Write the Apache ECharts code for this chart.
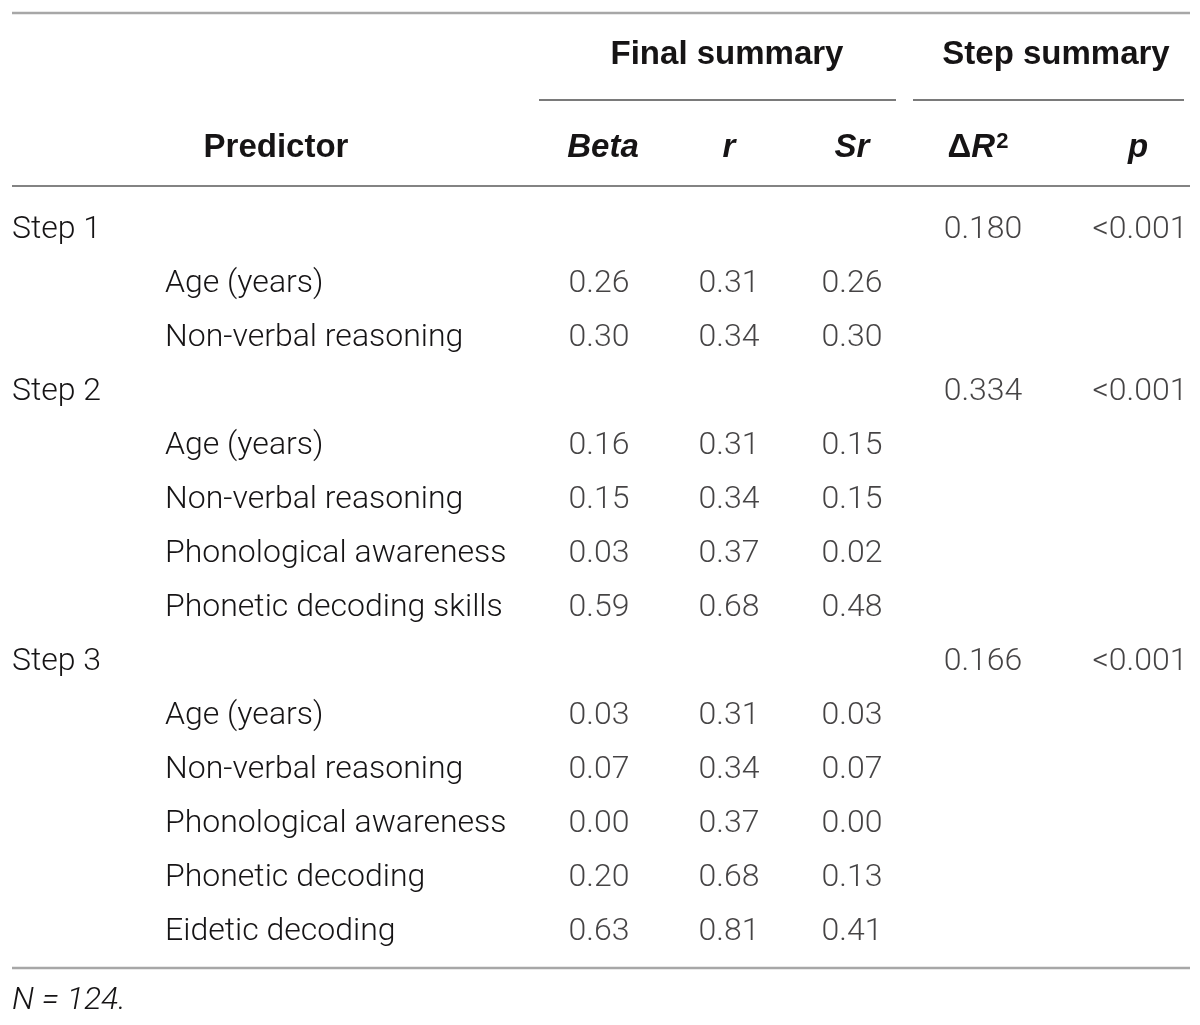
<!DOCTYPE html>
<html>
<head>
<meta charset="utf-8">
<script src="https://cdn.jsdelivr.net/npm/echarts@6/dist/echarts.min.js"></script>
<style>
  html, body { margin: 0; padding: 0; background: #fff; }
  #table { width: 1200px; height: 1025px; }
</style>
</head>
<body>
<div id="table"></div>
<script>
// rows of the table (Step rows are not indented)
const rowLabels = ["Step 1", "Age (years)", "Non-verbal reasoning",
                   "Step 2", "Age (years)", "Non-verbal reasoning", "Phonological awareness", "Phonetic decoding skills",
                   "Step 3", "Age (years)", "Non-verbal reasoning", "Phonological awareness", "Phonetic decoding", "Eidetic decoding"];
const rowIsStep = [1, 0, 0, 1, 0, 0, 0, 0, 1, 0, 0, 0, 0, 0];

// final summary
const betaVals = [null, 0.26, 0.30, null, 0.16, 0.15, 0.03, 0.59, null, 0.03, 0.07, 0.00, 0.20, 0.63];
const rVals    = [null, 0.31, 0.34, null, 0.31, 0.34, 0.37, 0.68, null, 0.31, 0.34, 0.37, 0.68, 0.81];
const srVals   = [null, 0.26, 0.30, null, 0.15, 0.15, 0.02, 0.48, null, 0.03, 0.07, 0.00, 0.13, 0.41];

// step summary
const dR2Vals = [0.180, null, null, 0.334, null, null, null, null, 0.166, null, null, null, null, null];
const pVals   = ["<0.001", null, null, "<0.001", null, null, null, null, "<0.001", null, null, null, null, null];

const note = "N = 124.";

// layout
const FONT = "Roboto, 'Liberation Sans', sans-serif";
const HFONT = "'Liberation Sans', Arial, sans-serif";
const TEXT = "#161415";
const BODY_SIZE = 32;
const HEAD_SIZE = 33;
const COL_X = [599, 729, 852, 983, 1140];
const ROW_TOP = 203, ROW_H = 54;

const chart = echarts.init(document.getElementById("table"), null, { renderer: "canvas" });

const cellLabel = {
    show: true,
    position: "inside",
    formatter: p => p.value[2],
    fontFamily: FONT,
    fontWeight: 300,
    fontSize: BODY_SIZE,
    color: TEXT
};

function colSeries(vals, c, fmt) {
    const data = [];
    vals.forEach((v, i) => {
        if (v !== null) data.push([COL_X[c], i, fmt(v)]);
    });
    return {
        type: "scatter",
        symbolSize: 0,
        silent: true,
        data: data,
        label: cellLabel
    };
}

const two = v => v.toFixed(2);
const three = v => v.toFixed(3);

const headStyle = { fontFamily: HFONT, fontWeight: "bold", fontSize: HEAD_SIZE, fill: TEXT };
const headItalic = Object.assign({}, headStyle, { fontStyle: "italic" });

function headText(x, y, text, style, align) {
    return { type: "text", x: x, y: y, style: Object.assign({ text: text, textAlign: align || "center", textVerticalAlign: "middle" }, style) };
}
function rule(x1, x2, y, color, w) {
    return { type: "line", shape: { x1: x1, y1: y, x2: x2, y2: y }, style: { stroke: color, lineWidth: w } };
}

const option = {
    animation: false,
    grid: { left: 12, right: 0, top: ROW_TOP, height: ROW_H * rowLabels.length },
    xAxis: {
        type: "value", min: 12, max: 1200,
        show: false
    },
    yAxis: {
        type: "category",
        inverse: true,
        data: rowLabels.map((_, i) => String(i)),
        axisLine: { show: false },
        axisTick: { show: false },
        splitLine: { show: false },
        axisLabel: {
            inside: true,
            margin: 0,
            formatter: (v, i) => rowIsStep[i] ? "{s|" + rowLabels[i] + "}" : "{i|" + rowLabels[i] + "}",
            rich: {
                s: { fontFamily: FONT, fontWeight: 300, fontSize: BODY_SIZE, color: TEXT },
                i: { fontFamily: FONT, fontWeight: 300, fontSize: BODY_SIZE, color: TEXT, padding: [0, 0, 0, 153] }
            }
        }
    },
    series: [
        colSeries(betaVals, 0, two),
        colSeries(rVals, 1, two),
        colSeries(srVals, 2, two),
        colSeries(dR2Vals, 3, three),
        colSeries(pVals, 4, v => v)
    ],
    graphic: [
        rule(12, 1190, 13, "#a7a7a7", 2.5),
        headText(727, 55, "Final summary", headStyle),
        headText(1056, 55, "Step summary", headStyle),
        rule(539, 896, 100, "#7a7a7a", 2),
        rule(913, 1184, 100, "#7a7a7a", 2),
        headText(276, 148, "Predictor", headStyle),
        headText(603, 148, "Beta", headItalic),
        headText(729, 148, "r", headItalic),
        headText(852, 148, "Sr", headItalic),
        {
            type: "text", x: 978, y: 148,
            style: {
                text: "{d|\u0394}{R|R}{s|2}",
                textAlign: "center", textVerticalAlign: "middle",
                rich: {
                    d: { fontFamily: HFONT, fontWeight: "bold", fontSize: HEAD_SIZE, fill: TEXT },
                    R: { fontFamily: HFONT, fontWeight: "bold", fontStyle: "italic", fontSize: HEAD_SIZE, fill: TEXT },
                    s: { fontFamily: HFONT, fontWeight: "bold", fontSize: 22, fill: TEXT, verticalAlign: "top", padding: [0, 0, 12, 1] }
                }
            }
        },
        headText(1138, 148, "p", headItalic),
        rule(12, 1190, 186, "#5a5a5a", 1.5),
        rule(12, 1190, 968, "#a7a7a7", 2.5),
        headText(12, 1001, note, { fontFamily: FONT, fontWeight: 300, fontStyle: "italic", fontSize: BODY_SIZE, fill: TEXT }, "left")
    ]
};

chart.setOption(option);
window.addEventListener("resize", () => chart.resize());
</script>
</body>
</html>
